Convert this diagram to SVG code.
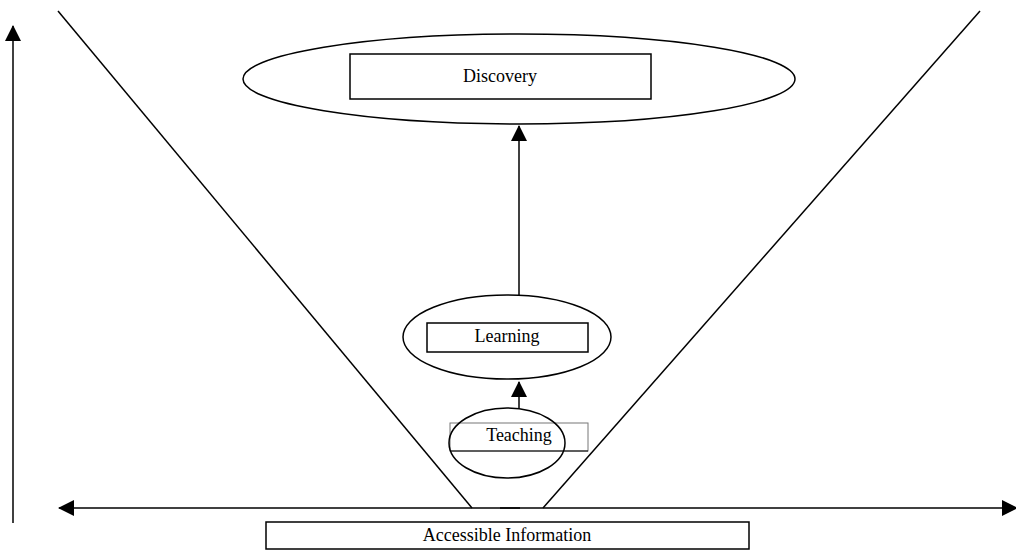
<svg xmlns="http://www.w3.org/2000/svg" width="1016" height="550" viewBox="0 0 1016 550">
<style>
.s{fill:none;stroke:#000;stroke-width:1.5}
.t{font-family:"Liberation Serif",serif;font-size:18px;fill:#000;text-anchor:middle}
</style>
<defs>
<marker id="ah" markerWidth="16" markerHeight="16" refX="15" refY="8" orient="auto" markerUnits="userSpaceOnUse" viewBox="0 0 16 16">
<path d="M0,0 L16,8 L0,16 z" fill="#000"/>
</marker>
</defs>
<rect width="1016" height="550" fill="#fff"/>
<g id="connectors">
<line class="s" x1="13" y1="523" x2="13" y2="26" marker-end="url(#ah)"/>
<line class="s" x1="520" y1="508" x2="59" y2="508" marker-end="url(#ah)"/>
<line class="s" x1="500" y1="508" x2="1017" y2="508" marker-end="url(#ah)"/>
<line class="s" x1="58" y1="11" x2="472" y2="508"/>
<line class="s" x1="980" y1="11" x2="543" y2="508"/>
<line class="s" x1="519" y1="295" x2="519" y2="126" marker-end="url(#ah)"/>
<line class="s" x1="519" y1="408" x2="519" y2="382" marker-end="url(#ah)"/>
</g>
<g id="discovery">
<ellipse class="s" cx="519" cy="79" rx="276" ry="45"/>
<rect class="s" x="350" y="54" width="301" height="45"/>
<text class="t" x="500" y="82">Discovery</text>
</g>
<g id="learning">
<ellipse class="s" cx="507" cy="337" rx="104" ry="42"/>
<rect class="s" x="427" y="323" width="161" height="29"/>
<text class="t" x="507" y="342">Learning</text>
</g>
<g id="teaching">
<rect x="450" y="423" width="138" height="28" fill="none" stroke="#777" stroke-width="1"/>
<line x1="450" y1="451" x2="588" y2="451" stroke="#000" stroke-width="1"/>
<ellipse class="s" cx="507" cy="443" rx="58" ry="35"/>
<text class="t" x="519" y="441">Teaching</text>
</g>
<g id="accessible">
<rect class="s" x="266" y="522" width="483" height="27"/>
<text class="t" x="507" y="541">Accessible Information</text>
</g>
</svg>
